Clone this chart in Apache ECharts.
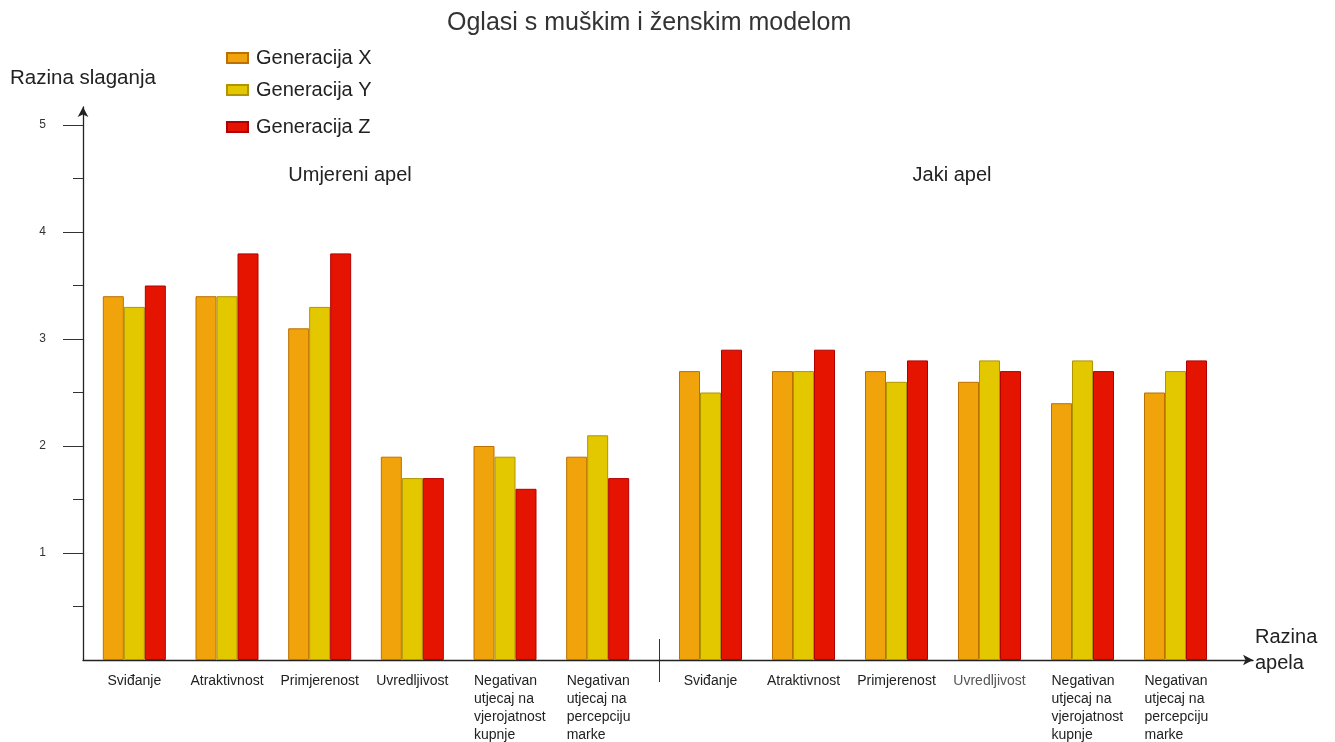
<!DOCTYPE html>
<html>
<head>
<meta charset="utf-8">
<script src="https://cdn.jsdelivr.net/npm/echarts@6/dist/echarts.min.js"></script>
<style>html,body{margin:0;padding:0;background:#fff}#c{width:1335px;height:742px}</style>
</head>
<body>
<div id="c"></div>
<script>
const categories = ['Sviđanje', 'Atraktivnost', 'Primjerenost', 'Uvredljivost', 'Negativan\nutjecaj na\nvjerojatnost\nkupnje', 'Negativan\nutjecaj na\npercepciju\nmarke'];
const seriesNames = ['Generacija X', 'Generacija Y', 'Generacija Z'];
const yTicks = [1, 2, 3, 4, 5];
// Umjereni apel
const moderateX = [3.4, 3.4, 3.1, 1.9, 2.0, 1.9];
const moderateY = [3.3, 3.4, 3.3, 1.7, 1.9, 2.1];
const moderateZ = [3.5, 3.8, 3.8, 1.7, 1.6, 1.7];
// Jaki apel
const strongX = [2.7, 2.7, 2.7, 2.6, 2.4, 2.5];
const strongY = [2.5, 2.7, 2.6, 2.8, 2.8, 2.7];
const strongZ = [2.9, 2.9, 2.8, 2.7, 2.7, 2.8];

const FONT = "'Liberation Sans', Arial, sans-serif";
const fills = ['#f0a30a', '#e3c800', '#e51400'];
const strokes = ['#BD7000', '#B09500', '#B20000'];

function labelFormatter(grey) {
  return function (v, idx) {
    if (v.indexOf('\n') >= 0) {
      return v.split('\n').map(l => '{m|' + l + '}').join('\n');
    }
    if (grey && idx === 3) return '{g|' + v + '}';
    return v;
  };
}
function xAxisFor(gridIndex, grey) {
  return {
    type: 'category', gridIndex: gridIndex, data: categories,
    axisLine: { show: false }, axisTick: { show: false },
    axisLabel: {
      interval: 0, margin: 12, fontSize: 14, color: '#222', fontFamily: FONT, lineHeight: 18,
      formatter: labelFormatter(grey),
      rich: {
        m: { width: 76, align: 'left', padding: [0, 0, 0, 14], fontSize: 14, lineHeight: 18, color: '#222', fontFamily: FONT },
        g: { fontSize: 14, lineHeight: 18, color: '#555', fontFamily: FONT }
      }
    }
  };
}
function yAxisFor(gridIndex, show) {
  return {
    type: 'value', gridIndex: gridIndex, min: 0, max: 5, interval: 1,
    offset: show ? 5 : 0,
    axisLine: { show: false },
    splitLine: { show: false },
    axisTick: { show: show, customValues: yTicks, length: 20, lineStyle: { color: '#333', width: 1 } },
    minorTick: { show: show, splitNumber: 2, length: 10, lineStyle: { color: '#333', width: 1 } },
    axisLabel: { show: show, customValues: yTicks, margin: 37, fontSize: 12, color: '#333', fontFamily: FONT }
  };
}
function barSeries(name, data, xi, yi, k) {
  return {
    type: 'bar', name: name, data: data, xAxisIndex: xi, yAxisIndex: yi,
    barWidth: 21, barGap: '0%',
    itemStyle: { color: fills[k], borderColor: strokes[k], borderWidth: 1 },
    emphasis: { disabled: true }
  };
}
function legendFor(k, top) {
  return {
    data: [seriesNames[k]], left: 221, top: top, orient: 'vertical',
    itemWidth: 21, itemHeight: 10, icon: 'rect',
    textStyle: { fontSize: 20, color: '#222', fontFamily: FONT, padding: [0, 0, 0, 3] },
    selectedMode: false
  };
}

const chart = echarts.init(document.getElementById('c'), null, { renderer: 'canvas' });
chart.setOption({
  animation: false,
  backgroundColor: '#fff',
  title: {
    text: 'Oglasi s muškim i ženskim modelom', left: 442, top: 6,
    textStyle: { fontSize: 25, fontWeight: 'normal', color: '#333', fontFamily: FONT }
  },
  legend: [legendFor(0, 43), legendFor(1, 75), legendFor(2, 112)],
  grid: [
    { left: 88, width: 556, top: 125, bottom: 82, outerBoundsMode: 'none', containLabel: false },
    { left: 664, width: 558, top: 125, bottom: 82, outerBoundsMode: 'none', containLabel: false },
    { left: 83, right: 82, top: 107, bottom: 82, outerBoundsMode: 'none', containLabel: false }
  ],
  xAxis: [
    xAxisFor(0, false),
    xAxisFor(1, true),
    { type: 'value', gridIndex: 2, min: 0, max: 1,
      axisLine: { show: true, symbol: ['none', 'arrow'], symbolSize: [8, 10], lineStyle: { color: '#222', width: 1.3 } },
      axisTick: { show: false }, axisLabel: { show: false }, splitLine: { show: false } }
  ],
  yAxis: [
    yAxisFor(0, true),
    yAxisFor(1, false),
    { type: 'value', gridIndex: 2, min: 0, max: 1,
      axisLine: { show: true, symbol: ['none', 'arrow'], symbolSize: [8, 10], lineStyle: { color: '#222', width: 1.3 } },
      axisTick: { show: false }, axisLabel: { show: false }, splitLine: { show: false } }
  ],
  series: [
    barSeries(seriesNames[0], moderateX, 0, 0, 0),
    barSeries(seriesNames[1], moderateY, 0, 0, 1),
    barSeries(seriesNames[2], moderateZ, 0, 0, 2),
    barSeries(seriesNames[0], strongX, 1, 1, 0),
    barSeries(seriesNames[1], strongY, 1, 1, 1),
    barSeries(seriesNames[2], strongZ, 1, 1, 2)
  ],
  graphic: [
    { type: 'text', left: 10, top: 68, style: { text: 'Razina slaganja', fontSize: 20.5, fill: '#222', fontFamily: FONT } },
    { type: 'text', left: 1255, top: 624, style: { text: 'Razina\napela', fontSize: 20, lineHeight: 26, fill: '#222', fontFamily: FONT } },
    { type: 'text', x: 350, y: 175, style: { text: 'Umjereni apel', fontSize: 20, fill: '#222', fontFamily: FONT, align: 'center', verticalAlign: 'middle' } },
    { type: 'text', x: 952, y: 175, style: { text: 'Jaki apel', fontSize: 20, fill: '#222', fontFamily: FONT, align: 'center', verticalAlign: 'middle' } },
    { type: 'line', shape: { x1: 659.5, y1: 639, x2: 659.5, y2: 682 }, style: { stroke: '#333', lineWidth: 1 } }
  ]
});
</script>
</body>
</html>
